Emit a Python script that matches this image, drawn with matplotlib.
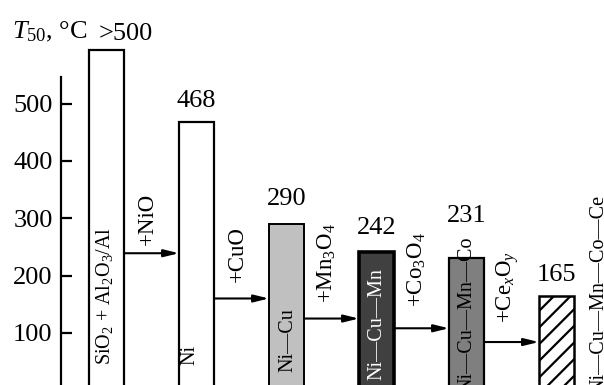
import matplotlib
matplotlib.use("Agg")
import matplotlib.pyplot as plt

plt.rcParams['font.family'] = ['Liberation Serif', 'DejaVu Serif']
plt.rcParams['mathtext.fontset'] = 'custom'
plt.rcParams['mathtext.rm'] = 'Liberation Serif'
plt.rcParams['mathtext.it'] = 'Liberation Serif:italic'
plt.rcParams['hatch.linewidth'] = 1.6

# data
catalysts = ["SiO$_2$ + Al$_2$O$_3$/Al", "Ni", "Ni\u2014Cu", "Ni\u2014Cu\u2014Mn",
             "Ni\u2014Cu\u2014Mn\u2014Co", "Ni\u2014Cu\u2014Mn\u2014Co\u2014Ce"]
t50 = [593, 468, 290, 242, 231, 165]
t50_labels = [">500", "468", "290", "242", "231", "165"]
additions = ["+NiO", "+CuO", "+Mn$_3$O$_4$", "+Co$_3$O$_4$", "+Ce$_x$O$_y$"]
arrow_levels = [239, 160, 125, 108, 84]
yticks = [100, 200, 300, 400, 500]

# styles / layout
face = ["white", "white", "#c0c0c0", "#404040", "#7f7f7f", "white"]
edge_w = [1.6, 1.6, 1.4, 2.6, 1.6, 1.8]
hatch = [None, None, None, None, None, "//"]
text_col = ["black", "black", "black", "white", "black", "black"]
name_x_shift = [-0.02, -0.07, 0.02, 0.0, 0.01, 0.47]
name_bottom = [44, 44, 31, 18, -3, -5]
value_x_shift = [0.21, 0, 0, 0, 0, 0]
value_gap = [4, 7, 10, 9, 22, 7]
add_gap = [6, 12, 11, 15, 14]
width = 0.39

fig = plt.figure(figsize=(6.04, 3.85), dpi=100)
ax = fig.add_axes([61 / 604, 0, 543 / 604, 1])
ax.set_xlim(-0.506, 5.528)
ax.set_ylim(9, 681)

x = list(range(len(t50)))
bars = ax.bar(x, t50, width=width, color=face, edgecolor="black", zorder=2)
for b, lw, h in zip(bars, edge_w, hatch):
    b.set_linewidth(lw)
    if h:
        b.set_hatch(h)

for i, b in enumerate(bars):
    ax.annotate(t50_labels[i], (i + value_x_shift[i], t50[i]), xytext=(0, value_gap[i]),
                textcoords="offset points", ha="center", va="bottom", fontsize=19)
    ax.text(i + name_x_shift[i], name_bottom[i], catalysts[i], rotation=90,
            ha="center", va="bottom", fontsize=14.5, color=text_col[i], zorder=3)

for i, lvl in enumerate(arrow_levels):
    x0 = i + width / 2
    x1 = i + 1 - width / 2
    ax.annotate("", xy=(x1, lvl), xytext=(x0, lvl),
                arrowprops=dict(arrowstyle="-|>,head_length=0.9,head_width=0.22",
                                color="black", lw=1.5, shrinkA=0, shrinkB=0))
    ax.annotate(additions[i], ((x0 + x1) / 2, lvl), xytext=(-3, add_gap[i]),
                textcoords="offset points", rotation=90, ha="center",
                va="bottom", fontsize=16.5)

for s in ["top", "right", "bottom"]:
    ax.spines[s].set_visible(False)
ax.spines["left"].set_linewidth(1.6)
ax.spines["left"].set_bounds(0, 546)
ax.set_xticks([])
ax.set_yticks(yticks)
ax.tick_params(axis="y", direction="in", length=8, width=1.6, labelsize=19, pad=6)

fig.text(12 / 604, 1 - 38 / 385, "$T_{50}$, \u00b0C", fontsize=19, ha="left", va="baseline")

fig.savefig("out.png", dpi=100)
